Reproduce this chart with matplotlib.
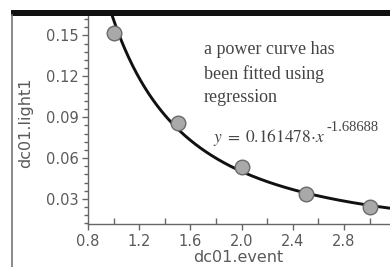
import numpy as np
import matplotlib
matplotlib.use("Agg")
import matplotlib.pyplot as plt
from matplotlib.ticker import MultipleLocator
from matplotlib.patches import Rectangle
from matplotlib.lines import Line2D

event = [1.0, 1.5, 2.0, 2.5, 3.0]
light = [0.152, 0.0856, 0.0534, 0.0337, 0.0244]
coef_a = 0.161478
coef_b = -1.68688
x_ticks = [0.8, 1.2, 1.6, 2.0, 2.4, 2.8]
y_ticks = [0.03, 0.06, 0.09, 0.12, 0.15]

plt.rcParams['mathtext.fontset'] = 'stix'
W, H = 390, 267
fig = plt.figure(figsize=(W / 100, H / 100), dpi=100)
ax = fig.add_axes([88 / W, (H - 224) / H, 1 - 88 / W, (224 - 15) / H])
ax.set_xlim(0.8, 3.16)
ax.set_ylim(0.0116, 0.165)

xs = np.linspace(0.9, 3.3, 300)
ax.plot(xs, coef_a * xs ** coef_b, color='#111111', lw=2.1, zorder=2)
ax.plot(event, light, 'o', ms=10.5, mfc='#a9a9a9', mec='#6a6a6a', mew=1.0, zorder=3)

ax.set_xticks(x_ticks)
ax.set_yticks(y_ticks)
ax.set_xticklabels([f"{v:.1f}" for v in x_ticks])
ax.set_yticklabels([f"{v:.2f}" for v in y_ticks])
ax.xaxis.set_minor_locator(MultipleLocator(0.2))
ax.yaxis.set_minor_locator(MultipleLocator(0.006))
ax.tick_params(which='major', direction='out', length=4, width=1, color='#666666',
               labelsize=10.5, labelcolor='#5a5a5a', pad=3)
ax.tick_params(axis='x', which='minor', direction='in', length=4, width=1, color='#666666')
ax.tick_params(axis='y', which='minor', direction='out', length=3, width=1, color='#666666')
for s in ['top', 'right']:
    ax.spines[s].set_visible(False)
for s in ['left', 'bottom']:
    ax.spines[s].set_color('#666666')
    ax.spines[s].set_linewidth(1.0)

fig.text(26 / W, 1 - 123 / H, 'dc01.light1', rotation=90, ha='center', va='center',
         fontsize=11.5, color='#5a5a5a')
fig.text(238 / W, 1 - 258 / H, 'dc01.event', ha='center', va='center',
         fontsize=11.5, color='#5a5a5a')

fig.text(204 / W, 1 - 41 / H, 'a power curve has\nbeen fitted using\nregression',
         ha='left', va='top', fontsize=13, family='Liberation Serif',
         color='#444444', linespacing=1.5)

main = fig.text(213 / W, 1 - 142 / H,
                r'$y\;=\;0.161478\!\cdot\! x$',
                ha='left', va='baseline', fontsize=12.5, color='#444444')
fig.canvas.draw()
bb = main.get_window_extent()
fig.text(bb.x1 / W + 1 / W, 1 - 131 / H, f"{coef_b:g}",
         ha='left', va='baseline', fontsize=10.5, family='Liberation Serif',
         color='#444444')

fig.add_artist(Rectangle((11 / W, 1 - 16 / H), 1, 6 / H, transform=fig.transFigure,
                         color='#111111', lw=0))
fig.add_artist(Line2D([12 / W, 12 / W], [0, 1 - 15 / H], transform=fig.transFigure,
                      color='#777777', lw=1.2))

fig.savefig('out.png', dpi=100)
